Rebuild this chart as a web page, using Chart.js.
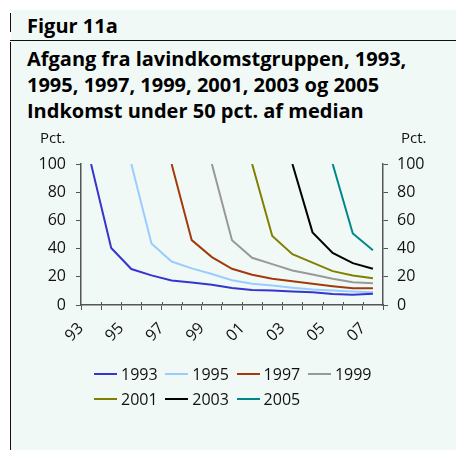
<!DOCTYPE html>
<html>
<head>
<meta charset="utf-8">
<script src="https://cdn.jsdelivr.net/npm/chart.js@4/dist/chart.umd.min.js"></script>
<style>
  html, body { margin: 0; padding: 0; background: #fff; }
  body { width: 456px; height: 450px; position: relative; overflow: hidden; font-family: "Open Sans", sans-serif; }
  #panel { position: absolute; left: 11px; top: 10px; width: 445px; height: 440px; background: #f1f9f6; }
  .vline { position: absolute; left: 10px; width: 1px; background: #111; }
  .hline { position: absolute; left: 10px; top: 40px; width: 446px; height: 1px; background: #111; }
  .head { position: absolute; left: 27px; font-weight: 700; font-size: 20px; line-height: 26px; color: #000; white-space: nowrap; }
  #chart { position: absolute; left: 0; top: 0; }
  #legend { position: absolute; left: 94px; top: 361px; width: 300px; display: grid; grid-template-columns: repeat(4, 71.3px); row-gap: 0; font-size: 16px; color: #111; }
  #legend .item { display: flex; align-items: center; height: 25px; white-space: nowrap; }
  #legend .swatch { width: 23px; height: 2px; margin-right: 4px; }
</style>
</head>
<body>
<div id="panel"></div>
<div class="vline" style="top:13px;height:19px"></div>
<div class="hline"></div>
<div class="vline" style="top:42px;height:408px"></div>
<div class="head" style="top:13px">Figur 11a</div>
<div class="head" style="top:46px">Afgang fra lavindkomstgruppen, 1993,<br>1995, 1997, 1999, 2001, 2003 og 2005<br>Indkomst under 50 pct. af median</div>
<canvas id="chart" width="456" height="450"></canvas>
<div id="legend"></div>
<script>
// år 1993-2007, kun hvert andet år vises som label
const years = ["93", "94", "95", "96", "97", "98", "99", "00", "01", "02", "03", "04", "05", "06", "07"];

const s1993 = [100, 40.5, 25.5, 21, 17.4, 16, 14.4, 12, 10.7, 10.2, 9.5, 9, 7.8, 7.2, 8];
const s1995 = [null, null, 100, 43.6, 30.8, 26, 22, 17.5, 15, 13.8, 12.3, 11, 10.2, 9.5, 9];
const s1997 = [null, null, null, null, 100, 46, 34, 25.7, 21.4, 18.6, 16.9, 15, 13.3, 11.9, 11.9];
const s1999 = [null, null, null, null, null, null, 100, 46, 33.5, 29, 24.5, 21.6, 18.6, 16.2, 15.5];
const s2001 = [null, null, null, null, null, null, null, null, 100, 49, 36, 30, 24, 21, 19];
const s2003 = [null, null, null, null, null, null, null, null, null, null, 100, 51.5, 37, 29.7, 25.7];
const s2005 = [null, null, null, null, null, null, null, null, null, null, null, null, 100, 50.7, 38.8];

const seriesNames = ["1993", "1995", "1997", "1999", "2001", "2003", "2005"];
const seriesData = [s1993, s1995, s1997, s1999, s2001, s2003, s2005];
const colors = ["#3535cf", "#99ccff", "#a33a0c", "#999999", "#808000", "#000000", "#00878a"];

const tickFont = { family: "Open Sans", size: 16 };
const axisColor = "#555";

// "Pct." over begge akser + små streger op over x-aksen (krydsende tick marks)
const extras = {
  id: "extras",
  afterDraw(chart) {
    const ctx = chart.ctx;
    const area = chart.chartArea;
    const x = chart.scales.x;
    ctx.save();
    ctx.font = "15px 'Open Sans'";
    ctx.fillStyle = "#111";
    ctx.textAlign = "left";
    ctx.fillText("Pct.", 40, 143);
    ctx.fillText("Pct.", area.right + 18, 143);
    ctx.strokeStyle = axisColor;
    ctx.lineWidth = 1;
    const n = years.length;
    const step = (area.right - area.left) / n;
    for (let i = 1; i < n; i++) {
      const px = Math.round(x.getPixelForTick(i) - step / 2) + 0.5;
      ctx.beginPath();
      ctx.moveTo(px, area.bottom);
      ctx.lineTo(px, area.bottom - 3);
      ctx.stroke();
    }
    ctx.restore();
  },
};

const ctx = document.getElementById("chart").getContext("2d");
const chart = new Chart(ctx, {
  type: "line",
  data: {
    labels: years,
    datasets: seriesNames.map((name, i) => ({
      label: name,
      data: seriesData[i],
      borderColor: colors[i],
      backgroundColor: colors[i],
      borderWidth: 2,
      pointRadius: 0,
      tension: 0,
      fill: false,
      yAxisID: "y",
    })),
  },
  options: {
    responsive: false,
    animation: false,
    layout: { padding: { left: 20, right: 20, top: 164, bottom: 100 } },
    plugins: {
      legend: { display: false },
      tooltip: { enabled: false },
    },
    scales: {
      x: {
        type: "category",
        offset: true,
        grid: { display: true, drawOnChartArea: false, offset: true, tickLength: 5, color: axisColor },
        border: { color: axisColor, width: 1.5 },
        ticks: {
          autoSkip: false,
          maxRotation: 45,
          minRotation: 45,
          labelOffset: -10,
          padding: 9,
          color: "#111",
          font: tickFont,
          callback: function (value, index) {
            return index % 2 === 0 ? years[index] : "";
          },
        },
        afterFit: (scale) => { scale.height = 45; },
      },
      y: {
        position: "left",
        min: 0,
        max: 100,
        grid: { drawOnChartArea: false, tickLength: 5, color: axisColor },
        border: { color: axisColor, width: 1.5 },
        ticks: { stepSize: 20, padding: 10, color: "#111", font: tickFont },
        afterFit: (scale) => { scale.width = 61; },
      },
      y2: {
        position: "right",
        min: 0,
        max: 100,
        grid: { drawOnChartArea: false, tickLength: 5, color: axisColor },
        border: { color: axisColor, width: 1.5 },
        ticks: { stepSize: 20, padding: 9, color: "#111", font: tickFont },
        afterFit: (scale) => { scale.width = 53; },
      },
    },
  },
  plugins: [extras],
});

// html-legend i fire kolonner, venstrestillet som i originalen
const legendEl = document.getElementById("legend");
chart.data.datasets.forEach((ds) => {
  const item = document.createElement("div");
  item.className = "item";
  const sw = document.createElement("span");
  sw.className = "swatch";
  sw.style.background = ds.borderColor;
  const txt = document.createElement("span");
  txt.textContent = ds.label;
  item.appendChild(sw);
  item.appendChild(txt);
  legendEl.appendChild(item);
});
</script>
</body>
</html>
